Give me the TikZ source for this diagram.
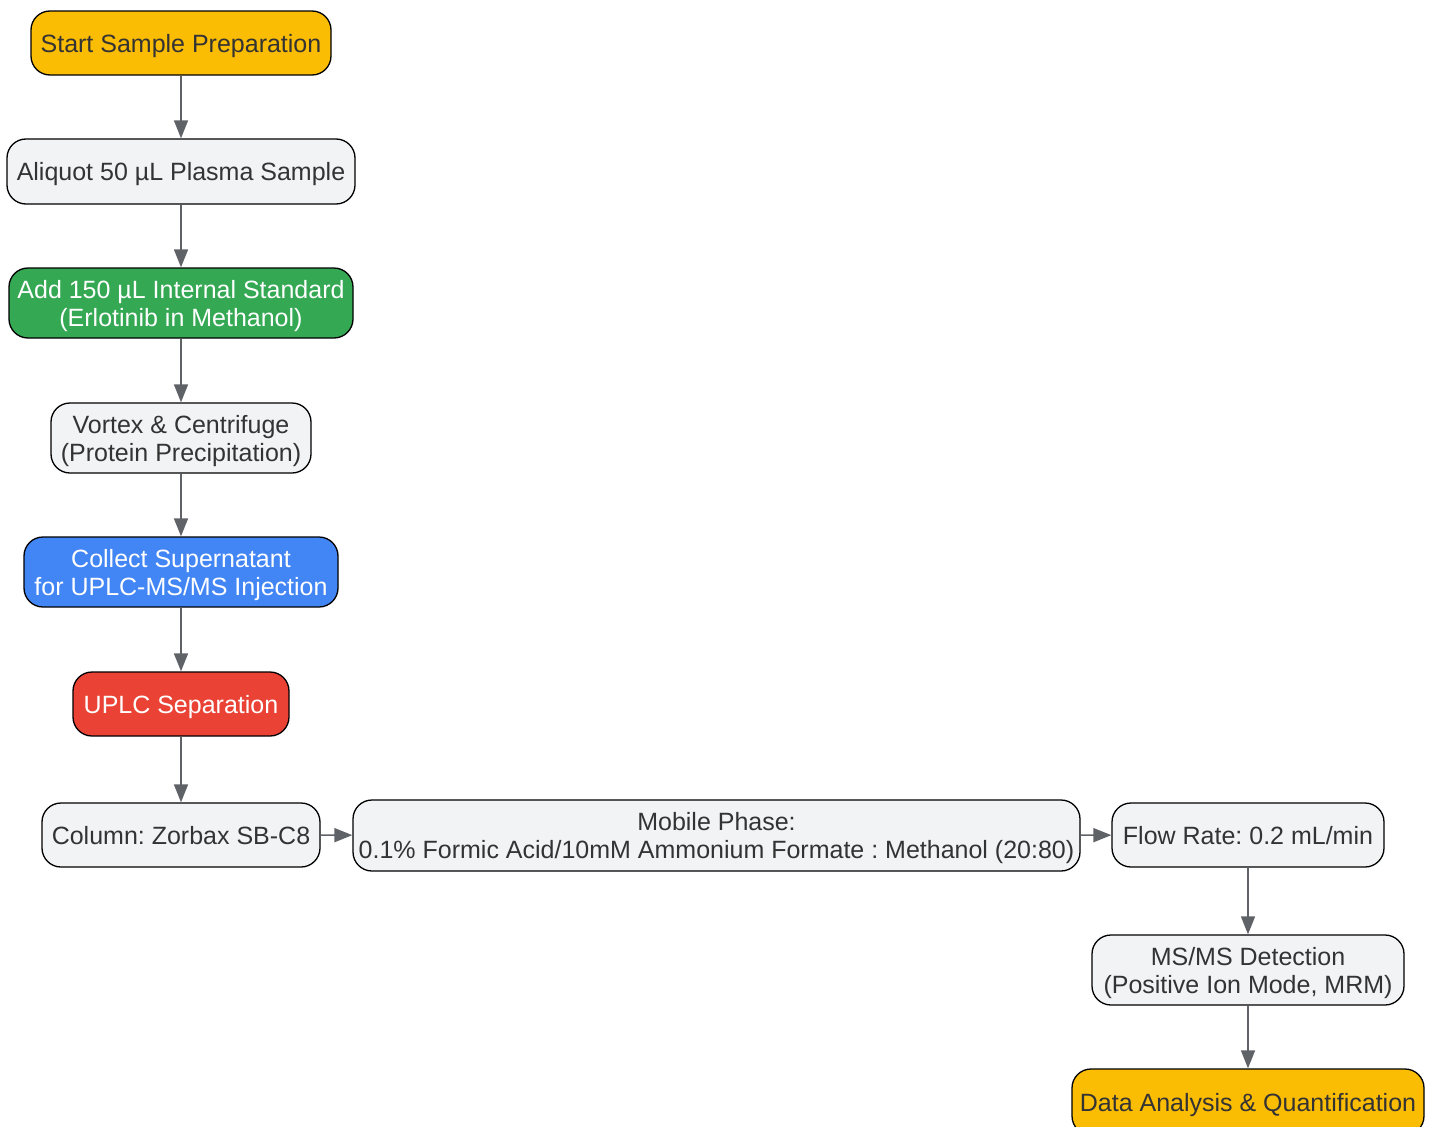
\documentclass[tikz,border=0pt]{standalone}
\usepackage{fontspec}
\setmainfont{Liberation Sans}
\usetikzlibrary{arrows.meta}
\definecolor{amber}{HTML}{FBBC04}
\definecolor{lgray}{HTML}{F1F3F4}
\definecolor{ggreen}{HTML}{34A853}
\definecolor{gblue}{HTML}{4285F4}
\definecolor{gred}{HTML}{EA4335}
\definecolor{txt}{HTML}{333333}
\definecolor{arr}{HTML}{5F6368}
\frenchspacing
\tikzset{
  box/.style={draw=black, line width=1.3pt, rounded corners=19pt, align=center, inner sep=0pt,
    font=\fontsize{25}{28}\selectfont\frenchspacing, text=txt, fill=lgray, text depth=0pt},
  wtext/.style={text=white},
  conn/.style={draw=arr, line width=1.6pt, -{Triangle[length=18pt,width=14pt]}}
}
\begin{document}
\begin{tikzpicture}[x=1pt,y=-1pt]
\useasboundingbox (0,0) rectangle (1435,1127);
\node[box, fill=amber, minimum width=300pt, minimum height=64pt] (start) at (181,43) {Start Sample Preparation};
\node[box, minimum width=348pt, minimum height=65pt] (aliquot) at (181,171.5) {Aliquot 50 µL Plasma Sample};
\node[box, fill=ggreen, wtext, minimum width=344pt, minimum height=70pt] (add) at (181,303) {Add 150 µL Internal Standard\\(Erlotinib in Methanol)};
\node[box, minimum width=260pt, minimum height=70pt] (vortex) at (181,438) {Vortex \& Centrifuge\\(Protein Precipitation)};
\node[box, fill=gblue, wtext, minimum width=314pt, minimum height=70pt] (collect) at (181,572) {Collect Supernatant\\for UPLC-MS/MS Injection};
\node[box, fill=gred, wtext, minimum width=216pt, minimum height=64pt] (uplc) at (181,704) {UPLC Separation};
\node[box, minimum width=278pt, minimum height=64pt] (column) at (181,835) {Column: Zorbax SB-C8};
\node[box, minimum width=727pt, minimum height=71pt] (mobile) at (716.5,835.5) {Mobile Phase:\\0.1\% Formic Acid/10mM Ammonium Formate : Methanol (20:80)};
\node[box, minimum width=272pt, minimum height=64pt] (flow) at (1248,835) {Flow Rate: 0.2 mL/min};
\node[box, minimum width=312pt, minimum height=70pt] (msms) at (1248,970) {MS/MS Detection\\(Positive Ion Mode, MRM)};
\node[box, fill=amber, minimum width=352pt, minimum height=66pt] (data) at (1248,1102) {Data Analysis \& Quantification};
\draw[conn] (start) -- (aliquot);
\draw[conn] (aliquot) -- (add);
\draw[conn] (add) -- (vortex);
\draw[conn] (vortex) -- (collect);
\draw[conn] (collect) -- (uplc);
\draw[conn] (uplc) -- (column);
\draw[conn] (column) -- (mobile);
\draw[conn] (mobile) -- (flow);
\draw[conn] (flow) -- (msms);
\draw[conn] (msms) -- (data);
\end{tikzpicture}
\end{document}
